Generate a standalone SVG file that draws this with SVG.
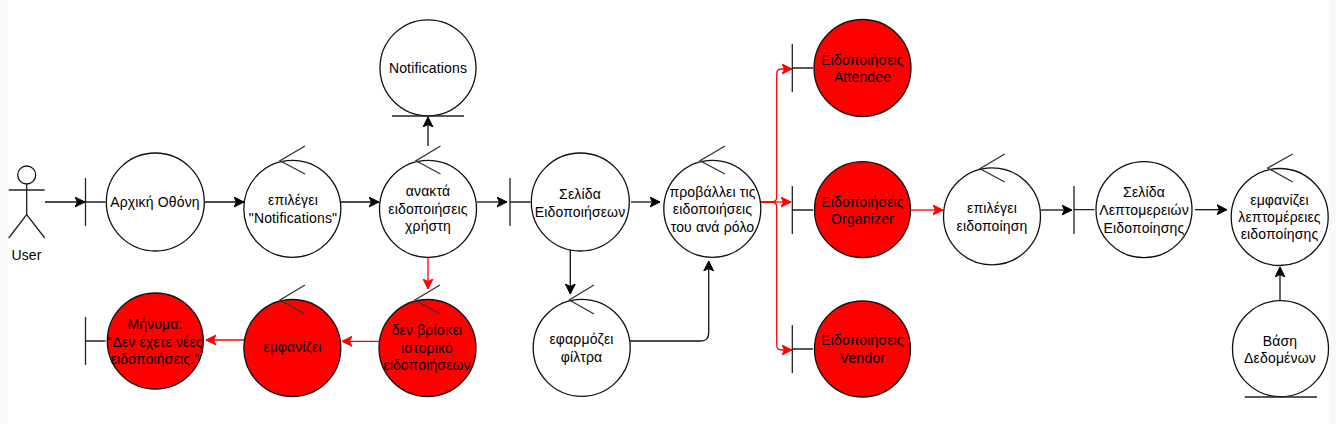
<svg xmlns="http://www.w3.org/2000/svg" width="1336" height="424" viewBox="0 0 1336 424">
<style>
.bg{fill:#f8f9fa}
.c{stroke:#111;stroke-width:1.3;fill:#fff}
.r{stroke:#111;stroke-width:1.3;fill:#f00}
.l{stroke:#222;stroke-width:1.3;fill:none}
.h{stroke:#333;stroke-width:1.3;fill:none}
.k{stroke:#111;stroke-width:1.3;fill:none;marker-end:url(#ak)}
.e{stroke:#f00;stroke-width:1.3;fill:none;marker-end:url(#ar)}
text{font-family:"Liberation Sans",Arial,sans-serif;font-size:14px;letter-spacing:.15px;fill:#000;text-anchor:middle}
</style>
<defs>
<marker id="ak" markerUnits="userSpaceOnUse" markerWidth="11" markerHeight="11" refX="10" refY="5.5" orient="auto" viewBox="0 0 11 11"><path d="M10,5.5 L0,0.5 L2.5,5.5 L0,10.5 Z" fill="#000" stroke="#000"/></marker>
<marker id="ar" markerUnits="userSpaceOnUse" markerWidth="11" markerHeight="11" refX="10" refY="5.5" orient="auto" viewBox="0 0 11 11"><path d="M10,5.5 L0,0.5 L2.5,5.5 L0,10.5 Z" fill="#f00" stroke="#f00"/></marker>
</defs>
<rect width="1336" height="424" class="bg"/>
<rect x="8" y="0" width="1321" height="424" fill="#fff"/>
<g id="connectors">
<path class="k" d="M45,202H85"/>
<path class="k" d="M205,202H244"/>
<path class="k" d="M341,202H379"/>
<path class="k" d="M477,202H507"/>
<path class="k" d="M631,202H660"/>
<path class="k" d="M428,146V117"/>
<path class="k" d="M570.3,250V294"/>
<path class="k" d="M630,341H700.7Q708.7,341 708.7,333V261"/>
<path class="e" d="M428,258V289"/>
<path class="e" d="M379,341.3H342"/>
<path class="e" d="M244,340L206,340"/>
<path class="e" d="M761,202H771.7Q776.7,202 776.7,197V74Q776.7,69 781.7,69H792"/>
<path class="e" d="M761,202H791"/>
<path class="e" d="M761,202H771.7Q776.7,202 776.7,207V345Q776.7,350 781.7,350H792"/>
<path class="e" d="M911,210H943"/>
<path class="k" d="M1041,210H1072"/>
<path class="k" d="M1195,209.7H1227"/>
<path class="k" d="M1280,300V267"/>
</g>
<g id="user"><circle class="c" cx="26.7" cy="175" r="9"/><path class="l" d="M26.7,184V214.5M8.7,190H44.7M8.7,238L26.7,214.5L44.7,238"/><text x="26.5" y="260">User</text></g>
<g id="home"><path class="l" d="M85.5,178V226M85.5,202H105.5"/><circle class="c" cx="155.3" cy="202" r="49"/><text x="155" y="207">Αρχική Οθόνη</text></g>
<g id="select-notifications"><circle class="c" cx="292.3" cy="208.8" r="48.5"/><path class="h" d="M305,146L280,160.7L305,174"/><text x="293" y="205">επιλέγει</text><text x="293" y="222.7">"Notifications"</text></g>
<g id="fetch"><circle class="c" cx="428" cy="208.8" r="48.5"/><path class="h" d="M440.5,146L416,160.7L440.5,174"/><text x="428" y="196">ανακτά</text><text x="428" y="213.5">ειδοποιήσεις</text><text x="428" y="231">χρήστη</text></g>
<g id="notifications-entity"><circle class="c" cx="428" cy="67.8" r="48"/><path class="l" d="M392,116H464"/><text x="428" y="72.7">Notifications</text></g>
<g id="no-history"><circle class="r" cx="427.5" cy="348" r="48.5"/><path class="h" d="M440,285L415,300L440,314"/><text x="427" y="335">δεν βρίσκει</text><text x="427" y="352.5">ιστορικό</text><text x="427" y="370">ειδοποιήσεων</text></g>
<g id="show"><circle class="r" cx="292.3" cy="348" r="48.5"/><path class="h" d="M305,285L280,300L305,314"/><text x="292.5" y="352">εμφανίζει</text></g>
<g id="message"><path class="l" d="M85.5,317V365M85.5,341H105.5"/><circle class="r" cx="155.3" cy="341" r="48"/><text x="155" y="329">Μήνυμα:</text><text x="155" y="346.7">"Δεν έχετε νέες</text><text x="155" y="364">ειδοποιήσεις."</text></g>
<g id="notifications-page"><path class="l" d="M510,178V226M510,202H530.5"/><circle class="c" cx="580.3" cy="202" r="49"/><text x="580" y="198.7">Σελίδα</text><text x="580" y="216.7">Ειδοποιήσεων</text></g>
<g id="filters"><circle class="c" cx="581.7" cy="347.8" r="48.5"/><path class="h" d="M594,285L569.3,300L594,314"/><text x="581.5" y="344">εφαρμόζει</text><text x="581.5" y="361.7">φίλτρα</text></g>
<g id="by-role"><circle class="c" cx="712.3" cy="208.8" r="48.5"/><path class="h" d="M725,146L700,160.7L725,174"/><text x="712.5" y="196.7">προβάλλει τις</text><text x="712.5" y="214">ειδοποιήσεις</text><text x="712.5" y="231.5">του ανά ρόλο</text></g>
<g id="attendee"><path class="l" d="M792.3,44V92M792.3,68H813"/><circle class="r" cx="862.5" cy="68" r="48.5"/><text x="862.5" y="65">Ειδοποιήσεις</text><text x="862.5" y="81.7">Attendee</text></g>
<g id="organizer"><path class="l" d="M792.3,186V234M792.3,210H813"/><circle class="r" cx="862.5" cy="209.7" r="48"/><text x="862.5" y="206.7">Ειδοποιήσεις</text><text x="862.5" y="224">Organizer</text></g>
<g id="vendor"><path class="l" d="M792.3,325V373M792.3,349H813"/><circle class="r" cx="862.5" cy="349" r="48"/><text x="862.5" y="345">Ειδοποιήσεις</text><text x="862.5" y="362.7">Vendor</text></g>
<g id="select-notification"><circle class="c" cx="992" cy="216.3" r="48.5"/><path class="h" d="M1004.7,154L980,168.7L1004.7,182"/><text x="992" y="213">επιλέγει</text><text x="992" y="230.5">ειδοποίηση</text></g>
<g id="details-page"><path class="l" d="M1074,186V234M1074,209.7H1094.5"/><circle class="c" cx="1144" cy="209.7" r="48"/><text x="1144" y="197.3">Σελίδα</text><text x="1144" y="215">Λεπτομερειών</text><text x="1144" y="232.7">Ειδοποίησης</text></g>
<g id="show-details"><circle class="c" cx="1279.7" cy="217" r="48.5"/><path class="h" d="M1292.7,154L1267.7,168L1292.7,182"/><text x="1279.5" y="205">εμφανίζει</text><text x="1279.5" y="222">λεπτομέρειες</text><text x="1279.5" y="239">ειδοποίησης</text></g>
<g id="database"><circle class="c" cx="1280.5" cy="348.7" r="48"/><path class="l" d="M1244.7,397H1317"/><text x="1280" y="346">Βάση</text><text x="1280" y="363">Δεδομένων</text></g>
</svg>
